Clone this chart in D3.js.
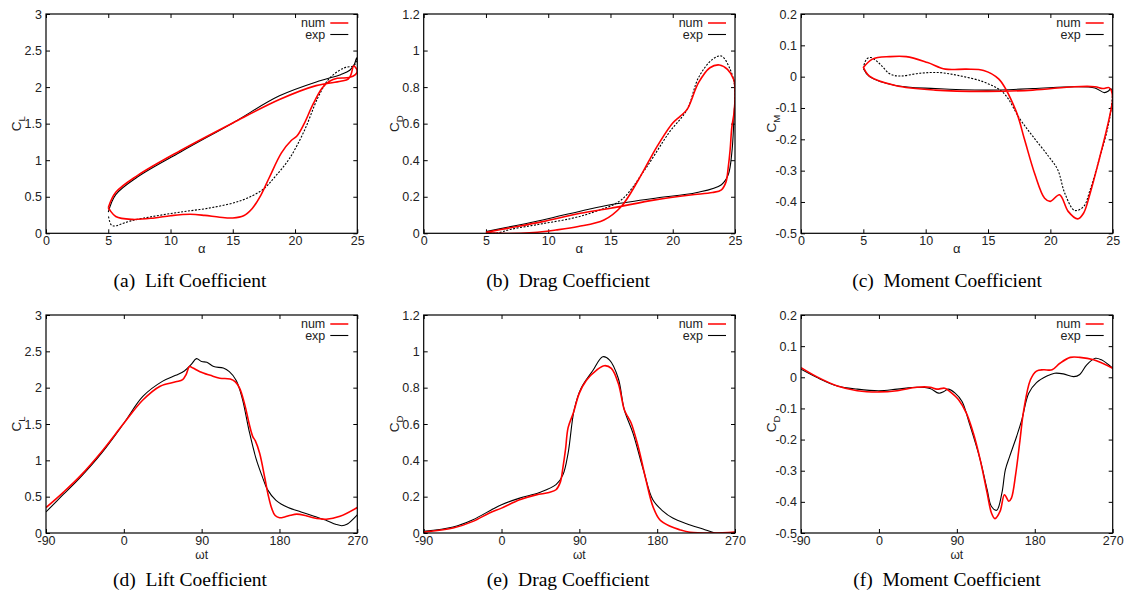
<!DOCTYPE html>
<html><head><meta charset="utf-8">
<script src="https://cdn.jsdelivr.net/npm/d3@7"></script>
<style>
html,body{margin:0;padding:0;background:#fff;}
svg{display:block;}
.tick text{font-family:"Liberation Sans",Arial,sans-serif;font-size:12.5px;fill:#222;}
</style></head>
<body>
<svg id="chart" width="1133" height="599"></svg>
<script>
// ---- data: [phase ωt (deg), value] ----
const clNum = [[-90,0.35],[-70,0.56],[-50,0.79],[-25,1.13],[0,1.51],[22,1.83],[42,2.02],[60,2.08],[68,2.11],[72,2.18],[76,2.29],[80,2.27],[88,2.22],[100,2.17],[111,2.13],[123,2.12],[129,2.08],[134,1.99],[140,1.76],[145,1.50],[149,1.33],[152,1.27],[157,1.10],[163,0.76],[167,0.52],[171,0.34],[175,0.24],[180,0.21],[186,0.22],[193,0.245],[200,0.26],[210,0.24],[219,0.21],[234,0.19],[250,0.23],[270,0.35]];
const clExp = [[-90,0.29],[-70,0.53],[-50,0.77],[-25,1.11],[0,1.51],[22,1.88],[45,2.09],[60,2.17],[70,2.23],[78,2.32],[84,2.40],[90,2.36],[96,2.35],[104,2.29],[115,2.27],[122,2.22],[130,2.10],[137,1.85],[145,1.40],[153,1.02],[160,0.78],[166,0.60],[176,0.45],[190,0.35],[205,0.29],[220,0.23],[235,0.17],[245,0.12],[252,0.10],[258,0.12],[270,0.25]];
const cdNum = [[-90,0.005],[-56,0.027],[-33,0.064],[-14,0.11],[0,0.137],[21,0.183],[40,0.21],[55,0.223],[63,0.238],[68,0.28],[71,0.36],[74,0.46],[77,0.58],[83,0.66],[90,0.77],[98,0.84],[110,0.897],[119,0.921],[127,0.906],[135,0.824],[142,0.678],[146,0.64],[150,0.604],[158,0.476],[167,0.293],[175,0.147],[183,0.073],[195,0.037],[206,0.018],[218,0.004],[245,0.0],[270,0.005]];
const cdExp = [[-90,0.009],[-56,0.033],[-33,0.073],[-10,0.132],[0,0.156],[21,0.192],[44,0.223],[63,0.266],[71,0.32],[77,0.44],[84,0.678],[92,0.797],[106,0.897],[117,0.97],[125,0.952],[135,0.852],[142,0.678],[152,0.55],[164,0.348],[175,0.183],[187,0.119],[198,0.082],[214,0.051],[233,0.022],[247,0.0],[260,0.0],[270,0.004]];
const cmNum = [[-90,0.031],[-72,0.002],[-48,-0.028],[-25,-0.043],[0,-0.047],[21,-0.043],[44,-0.032],[59,-0.032],[67,-0.038],[76,-0.035],[82,-0.046],[92,-0.072],[101,-0.115],[109,-0.179],[117,-0.265],[125,-0.372],[130,-0.436],[134,-0.454],[140,-0.43],[145,-0.377],[150,-0.398],[153,-0.388],[158,-0.31],[163,-0.2],[167,-0.11],[175,-0.008],[182,0.02],[190,0.024],[200,0.024],[209,0.045],[221,0.064],[232,0.064],[248,0.056],[270,0.029]];
const cmExp = [[-90,0.026],[-72,0.0],[-48,-0.028],[-25,-0.038],[0,-0.043],[21,-0.038],[44,-0.032],[59,-0.036],[69,-0.051],[75,-0.046],[80,-0.038],[88,-0.051],[96,-0.078],[105,-0.153],[117,-0.265],[125,-0.361],[130,-0.415],[136,-0.427],[142,-0.372],[146,-0.297],[151,-0.254],[159,-0.19],[165,-0.137],[173,-0.051],[182,-0.017],[194,0.004],[203,0.013],[213,0.011],[225,0.002],[232,0.009],[240,0.04],[250,0.061],[257,0.056],[270,0.029]];

// pitching kinematics of the experiment: alpha = 15 + 10 sin(ωt)
const alphaMean = 15, alphaAmp = 10;

const alphaTicks = [0,5,10,15,20,25];
const phaseTicks = [-90,0,90,180,270];
const clTicks = [0,0.5,1,1.5,2,2.5,3];
const cdTicks = [0,0.2,0.4,0.6,0.8,1,1.2];
const cmTicks = [-0.5,-0.4,-0.3,-0.2,-0.1,0,0.1,0.2];

const captions = ["(a)  Lift Coefficient","(b)  Drag Coefficient","(c)  Moment Coefficient","(d)  Lift Coefficient","(e)  Drag Coefficient","(f)  Moment Coefficient"];
const yLabels = [["C","L"],["C","D"],["C","M"],["C","L"],["C","D"],["C","D"]];
const seriesNames = ["num","exp"];

// ---- layout ----
const cols = [[46,357.3],[423.7,735],[801,1112.7]];
const rows = [[14,233.3],[315,533]];
const capX = [190,568,947];
const capY = [287,586];

const svg = d3.select("#chart");
const toAlpha = d => [alphaMean + alphaAmp*Math.sin(d[0]*Math.PI/180), d[1]];

const panels = [
  {num:clNum, exp:clExp, ticks:clTicks, mode:"alpha"},
  {num:cdNum, exp:cdExp, ticks:cdTicks, mode:"alpha"},
  {num:cmNum, exp:cmExp, ticks:cmTicks, mode:"alpha"},
  {num:clNum, exp:clExp, ticks:clTicks, mode:"phase"},
  {num:cdNum, exp:cdExp, ticks:cdTicks, mode:"phase"},
  {num:cmNum, exp:cmExp, ticks:cmTicks, mode:"phase"}
];

panels.forEach((p,i)=>{
  const c = i%3, r = Math.floor(i/3);
  const [x0,x1] = cols[c], [y0,y1] = rows[r];
  const xt = p.mode==="alpha" ? alphaTicks : phaseTicks;
  const x = d3.scaleLinear().domain([xt[0], xt[xt.length-1]]).range([x0,x1]);
  const y = d3.scaleLinear().domain([p.ticks[0], p.ticks[p.ticks.length-1]]).range([y1,y0]);
  const g = svg.append("g");
  const fmt = d => String(+d.toFixed(2));

  const ax = (a, t) => a.tickValues(t).tickSizeInner(-4).tickSizeOuter(0);
  g.append("g").attr("transform",`translate(0,${y1})`).call(ax(d3.axisBottom(x),xt).tickPadding(3).tickFormat(fmt));
  g.append("g").attr("transform",`translate(0,${y0})`).call(ax(d3.axisTop(x),xt).tickFormat(""));
  g.append("g").attr("transform",`translate(${x0},0)`).call(ax(d3.axisLeft(y),p.ticks).tickPadding(4).tickFormat(fmt));
  g.append("g").attr("transform",`translate(${x1},0)`).call(ax(d3.axisRight(y),p.ticks).tickFormat(""));
  g.selectAll(".domain").remove();
  g.selectAll(".tick line").attr("stroke","#000").attr("stroke-width",1);

  const cid = "clip"+i;
  svg.append("clipPath").attr("id",cid).append("rect").attr("x",x0).attr("y",y0).attr("width",x1-x0).attr("height",y1-y0);

  const line = d3.line().x(d=>x(d[0])).y(d=>y(d[1])).curve(d3.curveCatmullRom.alpha(0.5));
  const lg = g.append("g").attr("clip-path",`url(#${cid})`);

  if (p.mode==="alpha") {
    const up = p.exp.filter(d=>d[0]<=90);
    const down = p.exp.filter(d=>d[0]>=up[up.length-1][0]);
    lg.append("path").attr("d",line(up.map(toAlpha))).attr("fill","none").attr("stroke","#000").attr("stroke-width",1.1);
    lg.append("path").attr("d",line(down.map(toAlpha))).attr("fill","none").attr("stroke","#000").attr("stroke-width",1.1).attr("stroke-dasharray","2,1.5");
    lg.append("path").attr("d",line(p.num.map(toAlpha))).attr("fill","none").attr("stroke","#f00").attr("stroke-width",1.6);
  } else {
    lg.append("path").attr("d",line(p.exp)).attr("fill","none").attr("stroke","#000").attr("stroke-width",1.1);
    lg.append("path").attr("d",line(p.num)).attr("fill","none").attr("stroke","#f00").attr("stroke-width",1.6);
  }

  // frame
  g.append("rect").attr("x",x0).attr("y",y0).attr("width",x1-x0).attr("height",y1-y0)
    .attr("fill","none").attr("stroke","#000").attr("stroke-width",1.2);

  // legend
  seriesNames.forEach((n,k)=>{
    const ly = y0 + 9 + k*11.5;
    g.append("text").attr("x",x1-32).attr("y",ly+4).attr("text-anchor","end")
      .style("font-family","Liberation Sans, Arial, sans-serif").style("font-size","12.5px").attr("fill","#222").text(n);
    g.append("line").attr("x1",x1-27).attr("x2",x1-9).attr("y1",ly).attr("y2",ly)
      .attr("stroke",k===0?"#f00":"#000").attr("stroke-width",k===0?1.5:1.1);
  });

  // x label
  g.append("text").attr("x",(x0+x1)/2).attr("y",y1+ (p.mode==="alpha"?20:26)).attr("text-anchor","middle")
    .style("font-family","Liberation Sans, Arial, sans-serif").style("font-size",p.mode==="alpha"?"13px":"12px").attr("fill","#222")
    .text(p.mode==="alpha"?"α":"ωt");

  // y label
  const yl = g.append("text").attr("transform",`translate(${x0-25},${(y0+y1)/2}) rotate(-90)`).attr("text-anchor","middle")
    .style("font-family","Liberation Sans, Arial, sans-serif").style("font-size","13.5px").attr("fill","#222");
  yl.append("tspan").text(yLabels[i][0]);
  yl.append("tspan").attr("dy",4).style("font-size","9.5px").text(yLabels[i][1]);

  // caption
  svg.append("text").attr("x",capX[c]).attr("y",capY[r]).attr("text-anchor","middle")
    .style("font-family","Liberation Serif, Times New Roman, serif").style("font-size","19.5px").style("white-space","pre")
    .attr("fill","#000").text(captions[i]);
});
</script>
</body></html>
